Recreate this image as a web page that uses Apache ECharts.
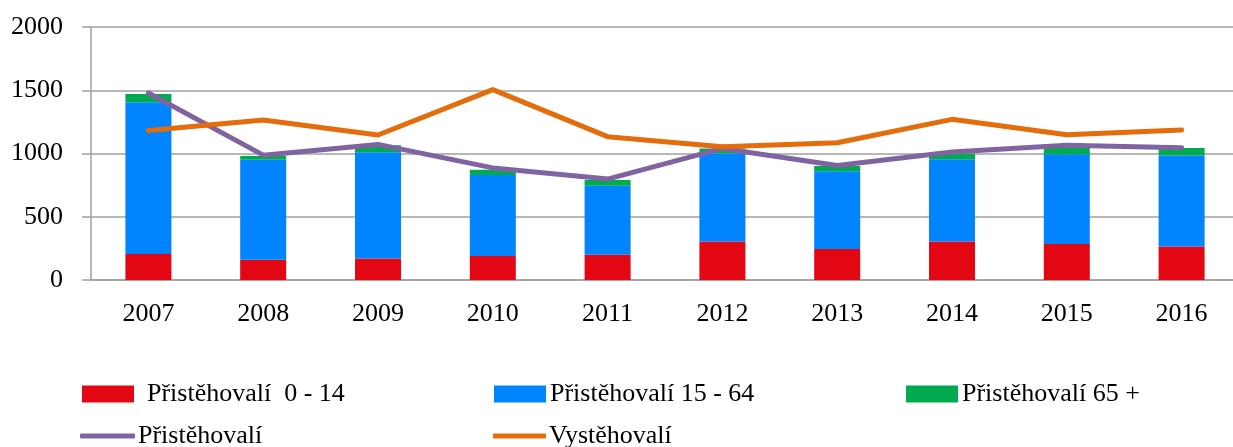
<!doctype html>
<html lang="cs">
 <head>
  <meta charset="UTF-8">
  <style type="text/css">
  html,body{margin:0;padding:0;background:#fff;}
  #graf{width:1233px;height:447px;}
  </style>
  <script src="https://cdn.jsdelivr.net/npm/echarts@6/dist/echarts.min.js"></script>
  <title>Přistěhovalí a vystěhovalí</title>
 </head>
 <body>
    <div id="graf"></div>
    <script type="text/javascript">
    // roky
    var roky = ['2007','2008','2009','2010','2011','2012','2013','2014','2015','2016'];
    // pristehovali podle veku (sloupce)
    var vek0_14  = [205, 160, 170, 190, 200, 305, 245, 305, 285, 265];
    var vek15_64 = [1200, 790, 840, 640, 545, 695, 615, 650, 710, 720];
    var vek65    = [65, 30, 55, 42, 45, 40, 42, 45, 48, 58];
    // linie
    var pristehovali = [1478, 987, 1072, 886, 798, 1040, 905, 1012, 1065, 1046];
    var vystehovali  = [1182, 1265, 1146, 1505, 1133, 1054, 1085, 1270, 1148, 1186];
    // osa y
    var osaY = [0, 500, 1000, 1500, 2000];

    var pismo = '"Liberation Serif", "DejaVu Serif", serif';
    var seda = '#a0a0a0';

    var myChart = echarts.init(document.getElementById('graf'));

    function legenda(jmeno, x, y, ikona, w, h, odsazeni){
        return {
            left: x, top: y,
            data: [{name: jmeno, icon: ikona}],
            itemWidth: w, itemHeight: h,
            padding: 0,
            textStyle: {fontFamily: pismo, fontSize: 26, color: '#000', padding: [0,0,0,odsazeni]}
        };
    }

    var option = {
        animation: false,
        color: ['#e30613','#0084ff','#00aa4f','#8064a2','#e46c0a'],
        grid: {left: 91, top: 27, width: 1148, height: 253, containLabel: false, outerBoundsMode: 'none'},
        legend: [
            legenda('Přistěhovalí  0 - 14', 82, 381, 'rect', 52, 17, 8),
            legenda('Přistěhovalí 15 - 64', 494, 381, 'rect', 52, 17, -1),
            legenda('Přistěhovalí 65 +', 906, 381, 'rect', 52, 17, -1),
            legenda('Přistěhovalí', 80, 423, 'roundRect', 55, 5, -2),
            legenda('Vystěhovalí', 493, 423, 'roundRect', 53, 5, -2)
        ],
        xAxis: {
            type: 'category',
            data: roky,
            axisLine: {lineStyle: {color: seda, width: 1.5}},
            axisTick: {length: 9, lineStyle: {color: seda, width: 1.5}},
            axisLabel: {fontFamily: pismo, fontSize: 26, color: '#000', margin: 21}
        },
        yAxis: {
            type: 'value',
            min: osaY[0], max: osaY[osaY.length-1], interval: osaY[1]-osaY[0],
            axisLine: {show: true, lineStyle: {color: seda, width: 1.5}},
            axisTick: {show: true, length: 9, lineStyle: {color: seda, width: 1.5}},
            splitLine: {lineStyle: {color: seda, width: 1.5}},
            axisLabel: {fontFamily: pismo, fontSize: 26, color: '#000', margin: 28,
                formatter: function(v){ return String(v); }}
        },
        series: [
            {name: 'Přistěhovalí  0 - 14', type: 'bar', stack: 'p', barWidth: 46, data: vek0_14},
            {name: 'Přistěhovalí 15 - 64', type: 'bar', stack: 'p', barWidth: 46, data: vek15_64},
            {name: 'Přistěhovalí 65 +', type: 'bar', stack: 'p', barWidth: 46, data: vek65},
            {name: 'Přistěhovalí', type: 'line', data: pristehovali, showSymbol: false,
             lineStyle: {width: 5, cap: 'round', join: 'round'}},
            {name: 'Vystěhovalí', type: 'line', data: vystehovali, showSymbol: false,
             lineStyle: {width: 5, cap: 'round', join: 'round'}}
        ]
    };
    myChart.setOption(option);
    </script>
 </body>
</html>
